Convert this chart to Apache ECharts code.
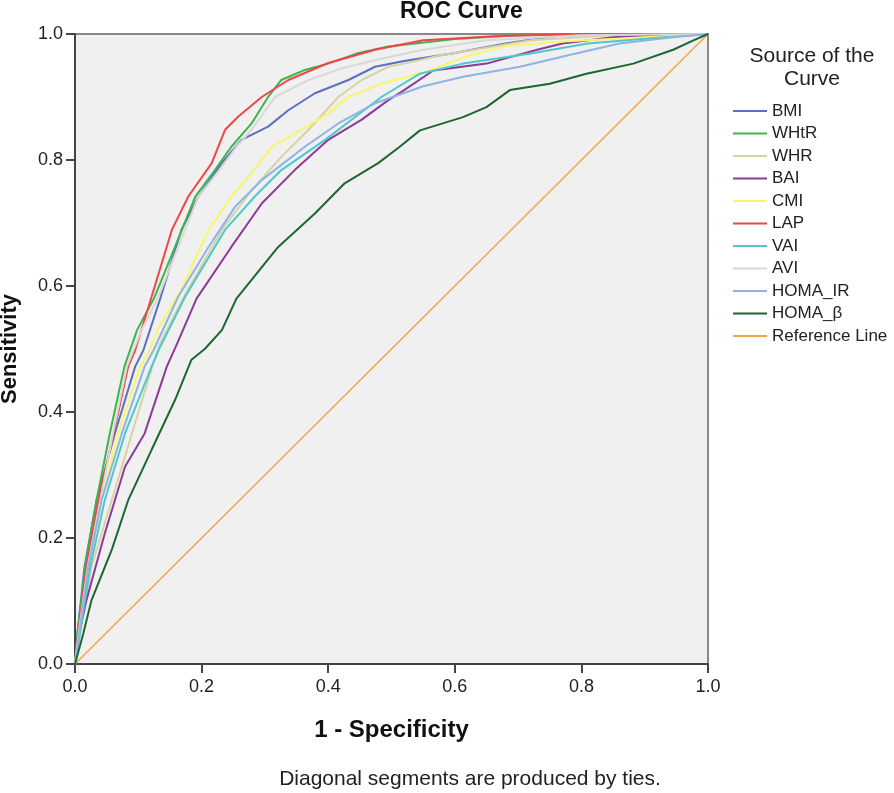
<!DOCTYPE html>
<html>
<head>
<meta charset="utf-8">
<script src="https://cdn.jsdelivr.net/npm/echarts@6/dist/echarts.min.js"></script>
<style>
  html, body { margin: 0; padding: 0; background: #fff; }
  #chart { width: 894px; height: 793px; }
</style>
</head>
<body>
<div id="chart"></div>
<script>
// ROC curves, points as [1 - specificity, sensitivity]
var names = ['BMI', 'WHtR', 'WHR', 'BAI', 'CMI', 'LAP', 'VAI', 'AVI', 'HOMA_IR', 'HOMA_β', 'Reference Line'];
var colors = ['#5a6fc2', '#3cb54a', '#d8d2a4', '#8e3a98', '#f9f56a', '#f2444a', '#4fc8cc', '#d8d8d8', '#8db4e2', '#1d6630', '#f7a64a'];
var tickLabels = ['0.0', '0.2', '0.4', '0.6', '0.8', '1.0'];

var bmi = [[0,0],[0.004,0.05],[0.015,0.154],[0.034,0.26],[0.063,0.366],[0.095,0.472],[0.108,0.498],[0.134,0.578],[0.168,0.689],[0.195,0.742],[0.232,0.795],[0.263,0.832],[0.305,0.853],[0.337,0.879],[0.379,0.906],[0.432,0.927],[0.474,0.948],[0.52,0.957],[0.6,0.97],[0.68,0.985],[0.76,0.997],[0.85,1],[1,1]];
var whtr = [[0,0],[0.004,0.05],[0.016,0.154],[0.034,0.26],[0.055,0.366],[0.078,0.472],[0.098,0.53],[0.126,0.583],[0.158,0.662],[0.19,0.742],[0.221,0.784],[0.247,0.821],[0.279,0.858],[0.305,0.9],[0.326,0.927],[0.363,0.943],[0.4,0.953],[0.448,0.97],[0.495,0.98],[0.6,0.992],[0.7,0.998],[0.8,1],[1,1]];
var whr = [[0,0],[0.008,0.05],[0.026,0.154],[0.058,0.26],[0.09,0.366],[0.122,0.472],[0.135,0.51],[0.172,0.583],[0.232,0.689],[0.279,0.752],[0.326,0.805],[0.369,0.848],[0.416,0.9],[0.453,0.927],[0.495,0.948],[0.52,0.953],[0.576,0.966],[0.63,0.975],[0.72,0.99],[0.85,0.998],[1,1]];
var bai = [[0,0],[0.007,0.05],[0.018,0.101],[0.047,0.207],[0.079,0.313],[0.11,0.366],[0.145,0.472],[0.162,0.51],[0.192,0.58],[0.247,0.662],[0.295,0.731],[0.347,0.784],[0.4,0.832],[0.453,0.864],[0.495,0.895],[0.52,0.911],[0.566,0.942],[0.65,0.953],[0.73,0.975],[0.77,0.985],[0.85,0.995],[0.95,1],[1,1]];
var cmi = [[0,0],[0.006,0.05],[0.021,0.154],[0.042,0.26],[0.068,0.366],[0.103,0.472],[0.118,0.498],[0.13,0.53],[0.168,0.594],[0.211,0.689],[0.247,0.742],[0.279,0.779],[0.311,0.821],[0.358,0.848],[0.4,0.874],[0.432,0.9],[0.484,0.921],[0.56,0.942],[0.613,0.963],[0.677,0.98],[0.77,0.988],[0.9,0.995],[1,1]];
var lap = [[0,0],[0.005,0.048],[0.018,0.154],[0.037,0.26],[0.061,0.366],[0.084,0.472],[0.095,0.498],[0.121,0.583],[0.153,0.689],[0.179,0.742],[0.216,0.795],[0.237,0.848],[0.258,0.869],[0.295,0.9],[0.337,0.927],[0.4,0.954],[0.474,0.975],[0.55,0.99],[0.67,0.997],[0.8,1],[1,1]];
var vai = [[0,0],[0.008,0.05],[0.024,0.154],[0.047,0.26],[0.079,0.366],[0.121,0.472],[0.132,0.498],[0.174,0.583],[0.237,0.689],[0.284,0.742],[0.326,0.784],[0.395,0.832],[0.437,0.864],[0.484,0.9],[0.545,0.937],[0.613,0.953],[0.72,0.969],[0.81,0.985],[0.93,0.995],[1,1]];
var avi = [[0,0],[0.006,0.05],[0.02,0.154],[0.04,0.26],[0.06,0.366],[0.082,0.472],[0.105,0.53],[0.132,0.583],[0.163,0.662],[0.195,0.742],[0.228,0.784],[0.255,0.821],[0.279,0.848],[0.316,0.9],[0.369,0.927],[0.42,0.945],[0.48,0.96],[0.55,0.975],[0.65,0.99],[0.8,0.998],[1,1]];
var homaIR = [[0,0],[0.007,0.05],[0.021,0.154],[0.042,0.26],[0.074,0.366],[0.11,0.472],[0.124,0.498],[0.163,0.583],[0.211,0.662],[0.253,0.726],[0.295,0.768],[0.363,0.821],[0.416,0.858],[0.474,0.89],[0.55,0.917],[0.613,0.932],[0.703,0.948],[0.766,0.963],[0.86,0.985],[0.945,0.995],[1,1]];
var homaB = [[0,0],[0.013,0.048],[0.026,0.101],[0.058,0.181],[0.084,0.26],[0.121,0.34],[0.158,0.419],[0.184,0.483],[0.205,0.5],[0.232,0.53],[0.255,0.58],[0.321,0.662],[0.379,0.715],[0.426,0.763],[0.479,0.795],[0.513,0.821],[0.545,0.847],[0.613,0.868],[0.65,0.884],[0.687,0.911],[0.75,0.921],[0.808,0.937],[0.882,0.953],[0.945,0.975],[0.977,0.99],[1,1]];
var refLine = [[0,0],[1,1]];

var curves = [bmi, whtr, whr, bai, cmi, lap, vai, avi, homaIR, homaB, refLine];

var font = "'Liberation Sans', Arial, sans-serif";
var chart = echarts.init(document.getElementById('chart'));

var series = curves.map(function(d, i) {
    return {
        name: names[i],
        type: 'line',
        data: d,
        showSymbol: false,
        symbol: 'none',
        color: colors[i],
        lineStyle: { width: i === 10 ? 1.6 : 2, color: colors[i] },
        z: i === 10 ? 1 : 2
    };
});

chart.setOption({
    animation: false,
    backgroundColor: '#ffffff',
    title: {
        text: 'ROC Curve',
        left: 400,
        top: 0,
        padding: 0,
        textStyle: { fontFamily: font, fontSize: 23, fontWeight: 'bold', color: '#111' }
    },
    grid: {
        left: 75, right: 186, top: 34, bottom: 129,
        outerBoundsMode: 'none',
        containLabel: false,
        show: true,
        backgroundColor: '#f0f0f0',
        borderColor: '#888',
        borderWidth: 2
    },
    legend: {
        orient: 'vertical',
        left: 733,
        top: 102,
        padding: 0,
        icon: 'rect',
        itemWidth: 34,
        itemHeight: 2,
        itemGap: 4.5,
        data: names,
        textStyle: { fontFamily: font, fontSize: 17, lineHeight: 18, color: '#222' }
    },
    xAxis: {
        type: 'value',
        min: 0, max: 1, interval: 0.2,
        name: '1 - Specificity',
        nameLocation: 'middle',
        nameGap: 54,
        nameTextStyle: { fontFamily: font, fontSize: 24, fontWeight: 'bold', color: '#111' },
        axisLine: { show: true, lineStyle: { color: '#444', width: 2 } },
        axisTick: { show: true, length: 9, lineStyle: { color: '#444', width: 2 } },
        axisLabel: {
            margin: 14, fontFamily: font, fontSize: 18, color: '#222',
            formatter: function(v) { return tickLabels[Math.round(v * 5)]; }
        },
        splitLine: { show: false }
    },
    yAxis: {
        type: 'value',
        min: 0, max: 1, interval: 0.2,
        name: 'Sensitivity',
        nameLocation: 'middle',
        nameGap: 54,
        nameTextStyle: { fontFamily: font, fontSize: 22, fontWeight: 'bold', color: '#111' },
        axisLine: { show: true, lineStyle: { color: '#444', width: 2 } },
        axisTick: { show: true, length: 9, lineStyle: { color: '#444', width: 2 } },
        axisLabel: {
            margin: 12, fontFamily: font, fontSize: 18, color: '#222',
            formatter: function(v) { return tickLabels[Math.round(v * 5)]; }
        },
        splitLine: { show: false }
    },
    graphic: [{
        type: 'text',
        x: 812,
        y: 45,
        style: {
            text: 'Source of the\nCurve',
            align: 'center',
            verticalAlign: 'top',
            font: '21px ' + font,
            lineHeight: 23,
            fill: '#222'
        }
    }, {
        type: 'text',
        x: 470,
        y: 779,
        style: {
            text: 'Diagonal segments are produced by ties.',
            align: 'center',
            verticalAlign: 'middle',
            font: '21px ' + font,
            fill: '#222'
        }
    }],
    series: series
});
</script>
</body>
</html>
